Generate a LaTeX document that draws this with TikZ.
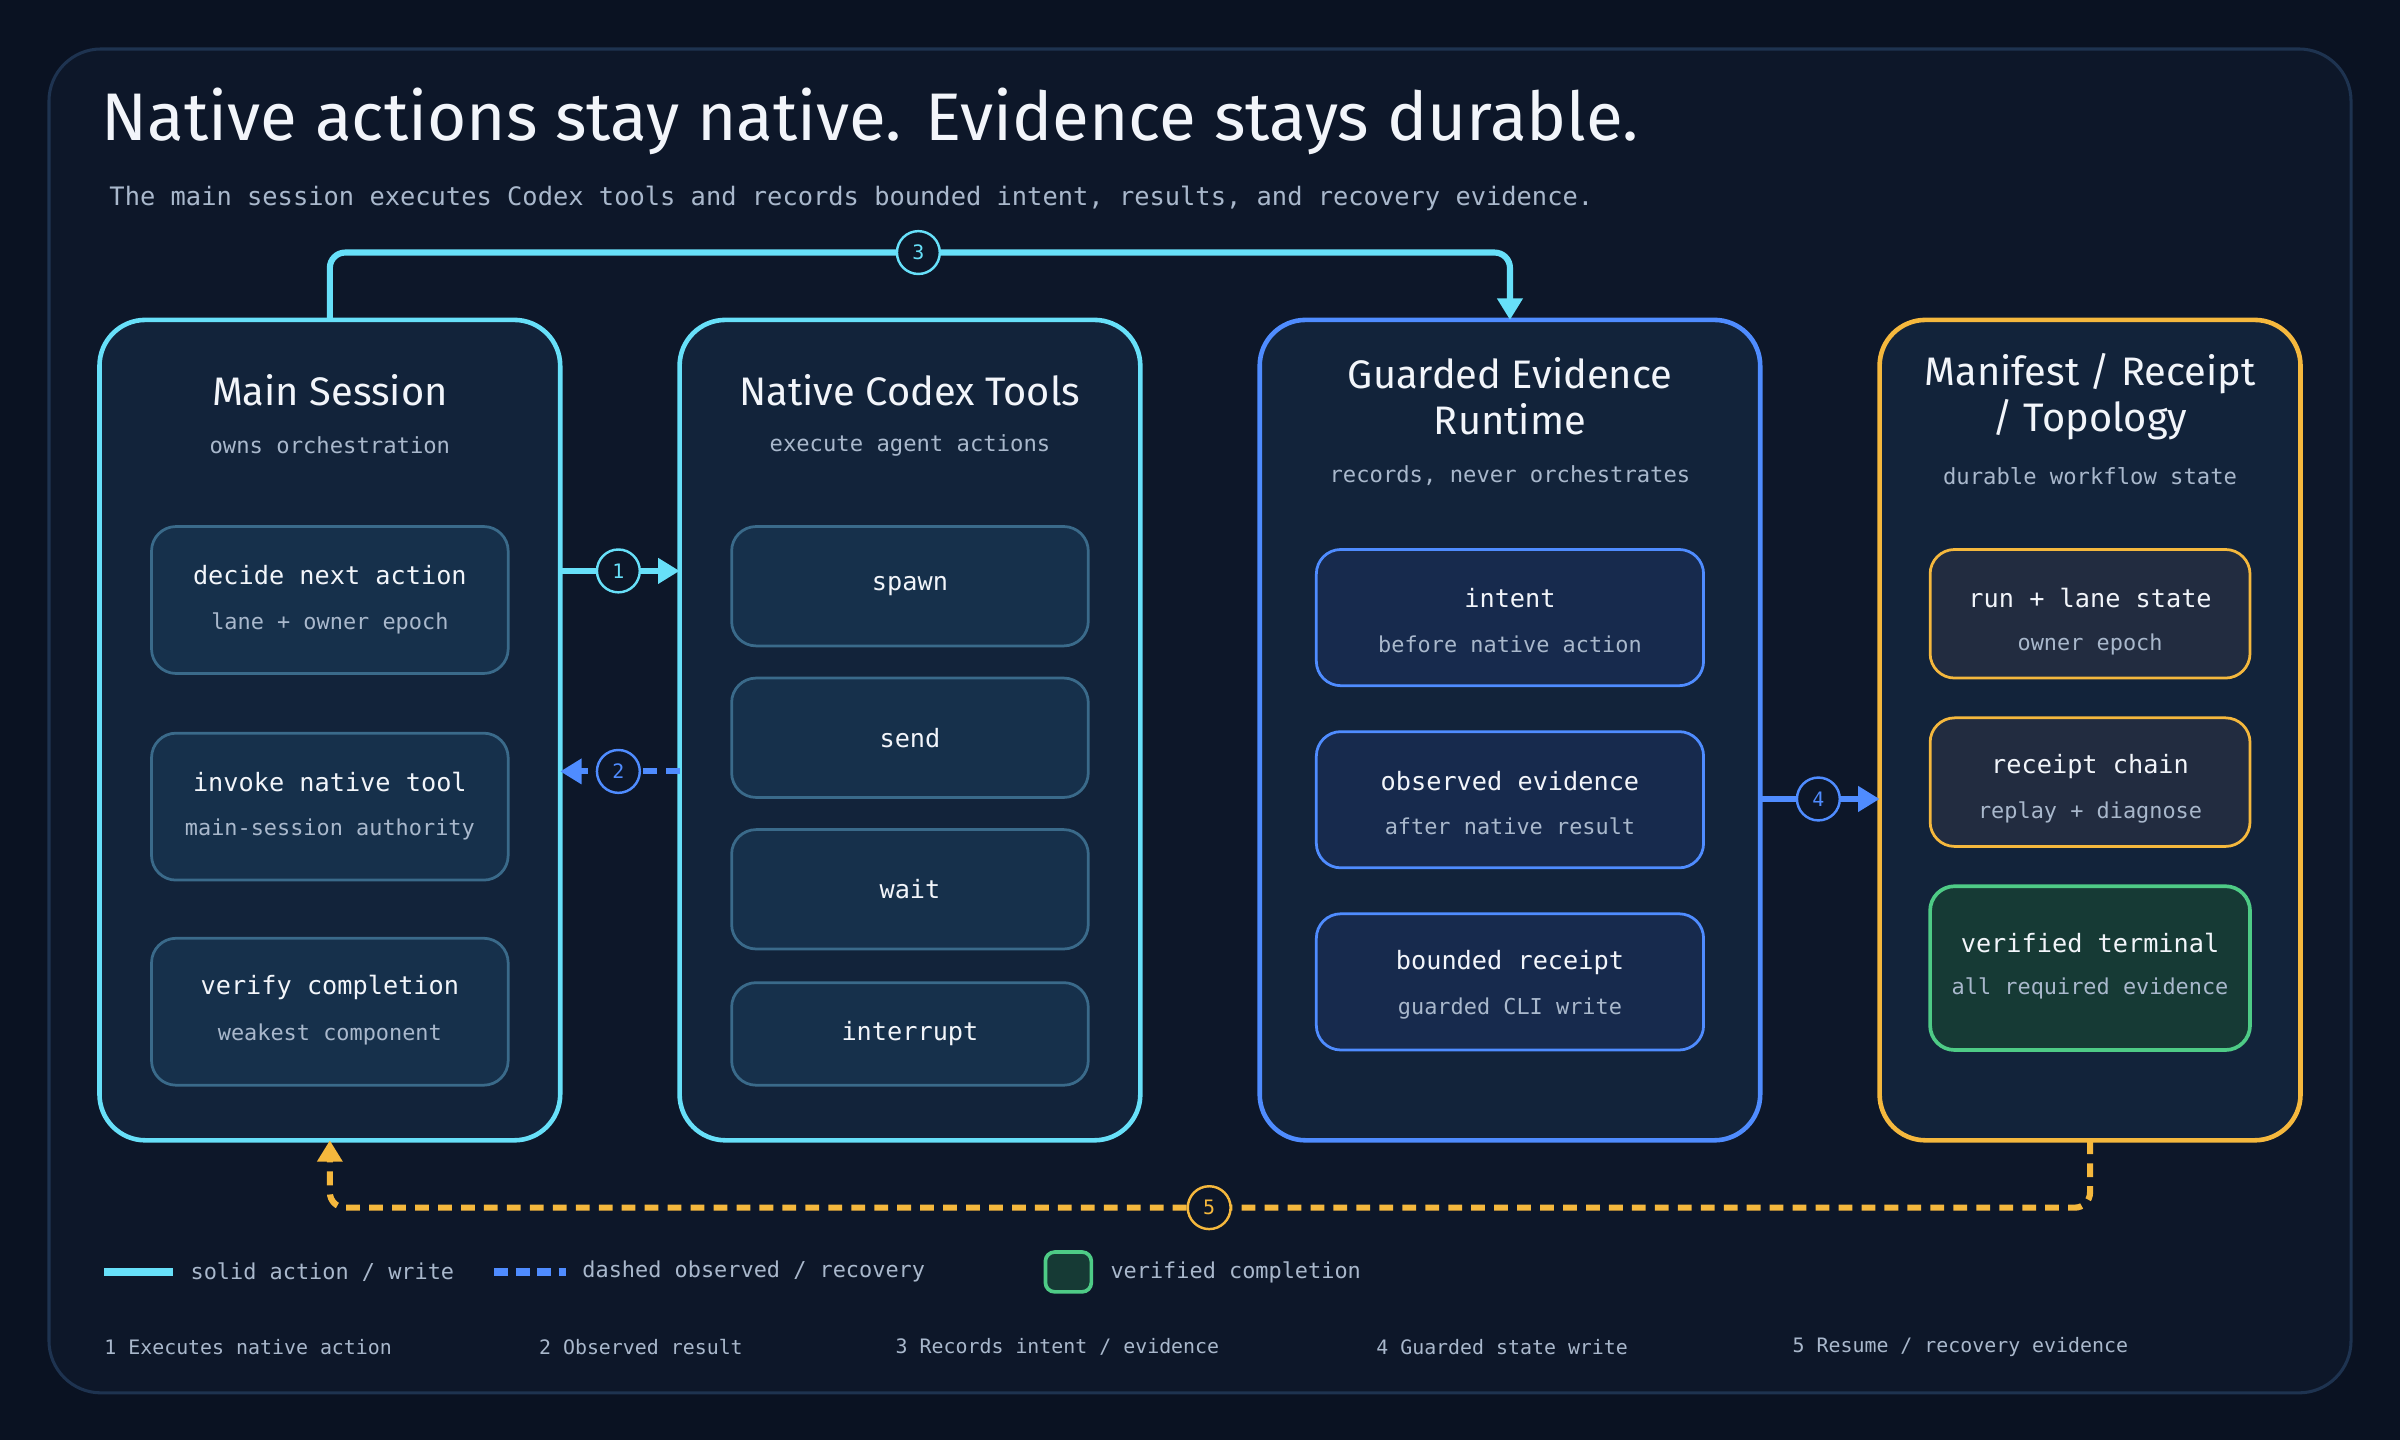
\documentclass[tikz,border=0pt]{standalone}
\usepackage{fontspec}
\setmainfont{Fira Sans}
\setmonofont{DejaVu Sans Mono}
\usetikzlibrary{positioning, arrows.meta, calc}
\definecolor{pagebg}{HTML}{0A1222}
\definecolor{panelbg}{HTML}{0D1729}
\definecolor{panelrule}{HTML}{1E3350}
\definecolor{colbg}{HTML}{12233A}
\definecolor{cyanline}{HTML}{67E0F9}
\definecolor{blueline}{HTML}{4F8CFF}
\definecolor{orangeline}{HTML}{F5B83D}
\definecolor{greenline}{HTML}{4ECB86}
\definecolor{itembg}{HTML}{16304B}
\definecolor{itemrule}{HTML}{3A6A8A}
\definecolor{guardbg}{HTML}{172A4D}
\definecolor{stateb}{HTML}{222C40}
\definecolor{greenbg}{HTML}{163A35}
\definecolor{softtext}{HTML}{A9B8CC}
\definecolor{headtext}{HTML}{F2F5FA}

\tikzset{
    column/.style={draw=#1, line width=3pt, fill=colbg, rounded corners=30pt},
    item/.style={draw=itemrule, line width=1.8pt, fill=itembg, rounded corners=16pt},
    guarditem/.style={draw=blueline, line width=1.8pt, fill=guardbg, rounded corners=16pt},
    stateitem/.style={draw=orangeline, line width=1.8pt, fill=stateb, rounded corners=16pt},
    heading/.style={text=headtext, font=\fontsize{26}{30}\selectfont, align=center},
    subhead/.style={text=softtext, font=\ttfamily\fontsize{14.5}{17}\selectfont},
    itemtext/.style={text=headtext, font=\ttfamily\fontsize{16.5}{20}\selectfont},
    itemsub/.style={text=softtext, font=\ttfamily\fontsize{14.3}{17}\selectfont},
    badge/.style={circle, draw=#1, line width=1.6pt, fill=panelbg, minimum size=28pt, inner sep=0pt,
        text=#1, font=\ttfamily\fontsize{13}{13}\selectfont},
    flow/.style={draw=#1, line width=4pt, -{Triangle[length=14pt,width=16pt]}},
    note/.style={text=softtext, font=\ttfamily\fontsize{13}{16}\selectfont, anchor=west},
}

\begin{document}
\begin{tikzpicture}[x=1pt, y=-1pt]
    \useasboundingbox (0,0) rectangle (1568,941);
    \fill[pagebg] (0,0) rectangle (1568,941);
    \draw[panelrule, line width=2pt, fill=panelbg, rounded corners=34pt] (32,32) rectangle (1536,910);

    % heading
    \node[anchor=base west, text=headtext, font=\fontsize{44}{50}\selectfont] (title) at (63,92)
        {Native actions stay native. Evidence stays durable.};
    \node[anchor=base west, text=softtext, font=\ttfamily\fontsize{16.6}{20}\selectfont] (lede) at (68,134)
        {The main session executes Codex tools and records bounded intent, results, and recovery evidence.};

    % columns
    \draw[column=cyanline] (65,209) rectangle (366,745);
    \draw[column=cyanline] (444,209) rectangle (745,745);
    \draw[column=blueline] (823,209) rectangle (1150,745);
    \draw[column=orangeline] (1228,209) rectangle (1503,745);
    \coordinate (main) at (215.5,209);
    \coordinate (tools) at (594.5,209);
    \coordinate (guard) at (986.5,209);
    \coordinate (store) at (1365.5,209);

    \node[heading] (mainhead) at (215.5,255) {Main Session};
    \node[subhead] at (215.5,291) {owns orchestration};
    \node[heading] (toolshead) at (594.5,255) {Native Codex Tools};
    \node[subhead] at (594.5,291) {execute agent actions};
    \node[heading] (guardhead) at (986.5,259) {Guarded Evidence\\Runtime};
    \node[subhead] at (986.5,311) {records, never orchestrates};
    \node[heading] (storehead) at (1365.5,259) {Manifest / Receipt\\/ Topology};
    \node[subhead] at (1365.5,311) {durable workflow state};

    % main session steps
    \foreach \name/\top/\bot/\a/\b in {
        decide/344/440/decide next action/lane + owner epoch,
        invoke/479/575/invoke native tool/main-session authority,
        verify/613/709/verify completion/weakest component}{
        \draw[item] (99,\top) rectangle (332,\bot);
        \node[itemtext] (\name) at (215.5,\top+32) {\a};
        \node[itemsub] at (215.5,\top+63) {\b};
    }

    % native tools
    \foreach \name/\top/\bot in {spawn/344/422, send/443/521, wait/542/620, interrupt/642/709}{
        \draw[item] (478,\top) rectangle (711,\bot);
        \node[itemtext] (\name) at (594.5,{(\top+\bot)/2}) {\name};
    }

    % guarded runtime
    \foreach \name/\top/\a/\b in {
        intent/359/intent/before native action,
        observed/478/observed evidence/after native result,
        bounded/597/bounded receipt/guarded CLI write}{
        \draw[guarditem] (860,\top) rectangle (1113,\top+89);
        \node[itemtext] (\name) at (986.5,\top+32) {\a};
        \node[itemsub] at (986.5,\top+62) {\b};
    }

    % durable state
    \draw[stateitem] (1261,359) rectangle (1470,443);
    \node[itemtext] (runstate) at (1365.5,391) {run + lane state};
    \node[itemsub] at (1365.5,421) {owner epoch};
    \draw[stateitem] (1261,469) rectangle (1470,553);
    \node[itemtext] (chain) at (1365.5,501) {receipt chain};
    \node[itemsub] at (1365.5,531) {replay + diagnose};
    \draw[draw=greenline, line width=2.4pt, fill=greenbg, rounded corners=16pt] (1261,579) rectangle (1470,686);
    \node[itemtext] (terminal) at (1365.5,616) {verified terminal};
    \node[itemsub] at (1365.5,646) {all required evidence};

    % connectors
    \coordinate (m1) at (366,373);
    \coordinate (t1) at (444,373);
    \coordinate (t2) at (444,504);
    \coordinate (m2) at (366,504);
    \coordinate (g4) at (1150,522);
    \coordinate (s4) at (1228,522);
    \coordinate (mainfoot) at (215.5,745);
    \coordinate (storefoot) at (1365.5,745);

    \draw[flow=cyanline] (m1) -- (t1);
    \draw[flow=blueline, dashed, dash pattern=on 9pt off 6pt] (t2) -- (m2);
    \draw[flow=cyanline, rounded corners=10pt] (main) -- (215.5,165) -- (986.5,165) -- (guard);
    \draw[flow=blueline] (g4) -- (s4);
    \draw[flow=orangeline, dash pattern=on 9pt off 6pt, rounded corners=10pt]
        (storefoot) -- (1365.5,789) -- (215.5,789) -- (mainfoot);

    \node[badge=cyanline] (b1) at (404,373) {1};
    \node[badge=blueline] (b2) at (404,504) {2};
    \node[badge=cyanline] (b3) at (600,165) {3};
    \node[badge=blueline] (b4) at (1188,522) {4};
    \node[badge=orangeline] (b5) at (790,789) {5};

    % legend
    \draw[cyanline, line width=5pt] (68,831) -- (113,831);
    \node[note, font=\ttfamily\fontsize{14.3}{17}\selectfont] at (121,831) {solid action / write};
    \draw[blueline, line width=5pt, dash pattern=on 9pt off 5pt] (323,831) -- (370,831);
    \node[note, font=\ttfamily\fontsize{14.3}{17}\selectfont] at (377,831) {dashed observed / recovery};
    \draw[greenline, line width=2.4pt, fill=greenbg, rounded corners=6pt] (683,818) rectangle (713,844);
    \node[note, font=\ttfamily\fontsize{14.3}{17}\selectfont] at (722,831) {verified completion};

    \foreach \x/\txt in {68/{1 Executes native action}, 352/{2 Observed result}, 585/{3 Records intent / evidence},
        899/{4 Guarded state write}, 1171/{5 Resume / recovery evidence}}{
        \node[note, inner sep=0pt] at (\x,880) {\txt};
    }
\end{tikzpicture}
\end{document}
